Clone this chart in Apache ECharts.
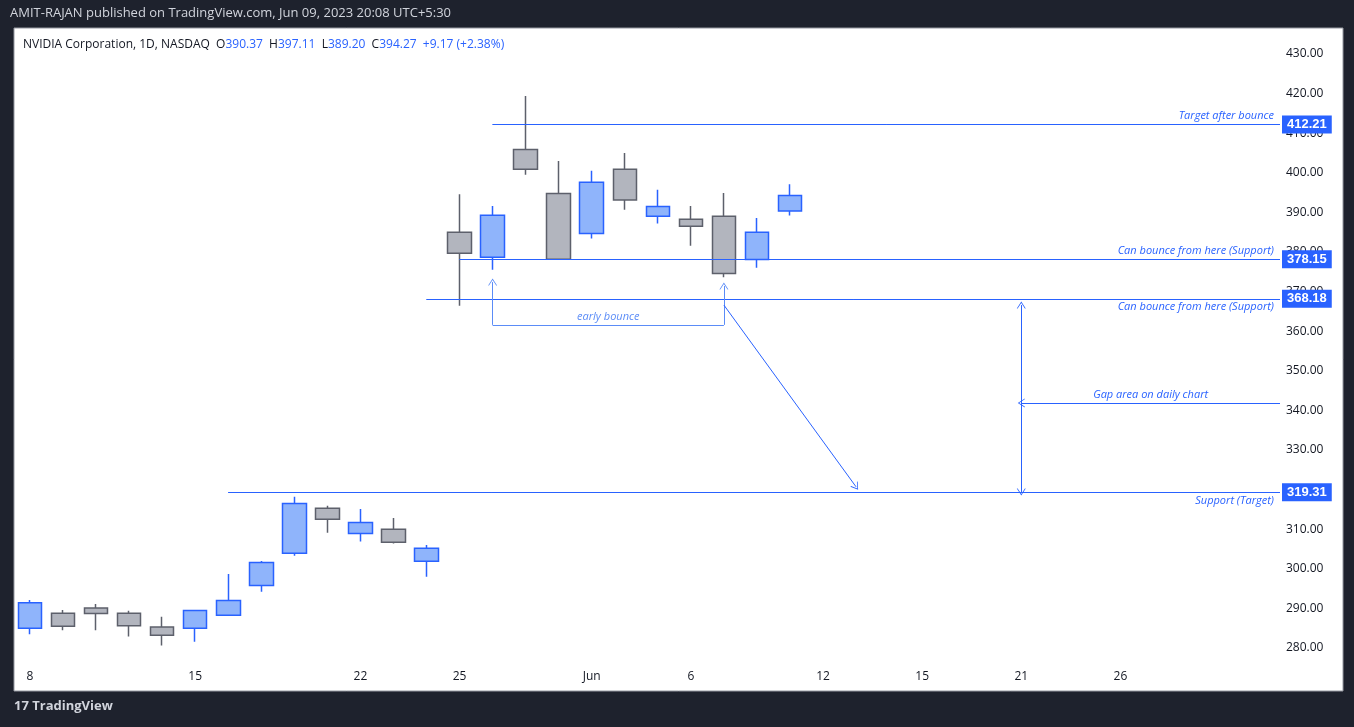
<!DOCTYPE html>
<html>
<head>
<meta charset="UTF-8">
<title>NVDA 1D</title>
<script src="https://cdn.jsdelivr.net/npm/echarts@6/dist/echarts.min.js"></script>
<style>
  * { margin: 0; padding: 0; }
  body { background: #1e222d; }
  #main { width: 1354px; height: 727px; }
</style>
</head>
<body>
<div id="main"></div>
<script>
// trading days, May 8 .. Jun 30 2023 (index = position on the axis)
var days = ['05-08','05-09','05-10','05-11','05-12','05-15','05-16','05-17','05-18','05-19',
  '05-22','05-23','05-24','05-25','05-26','05-30','05-31','06-01','06-02','06-05','06-06',
  '06-07','06-08','06-09','06-12','06-13','06-14','06-15','06-16','06-20','06-21','06-22',
  '06-23','06-26','06-27','06-28','06-29','06-30'];
var tickIdx = [0, 5, 10, 13, 17, 20, 24, 27, 30, 33];
var tickText = ['8', '15', '22', '25', 'Jun', '6', '12', '15', '21', '26'];

var opens  = [285.0,288.8,290.1,288.8,285.3,285.0,288.3,295.8,303.9,315.3,308.9,310.0,301.9,
              385.0,378.7,405.9,394.8,384.7,400.9,389.0,388.3,389.0,378.1,390.37];
var closes = [291.4,285.5,288.7,285.6,283.2,289.5,292.0,301.6,316.5,312.5,311.7,306.7,305.2,
              379.7,389.3,400.9,378.2,397.6,393.1,391.5,386.5,374.6,385.0,394.27];
var lows   = [283.5,284.5,284.5,282.9,280.6,281.6,288.3,294.2,303.3,309.1,306.9,306.4,298.0,
              366.4,375.5,399.5,378.2,383.4,390.7,387.2,381.6,373.6,376.0,389.20];
var highs  = [292.1,289.6,291.1,289.4,287.9,289.5,298.7,302.0,318.2,315.9,315.1,312.8,306.0,
              394.6,391.6,419.4,403.0,400.5,405.0,395.7,391.6,394.9,388.6,397.11];

// horizontal levels: value, start index, note, note side
var levels = [
  { v: 412.21, from: 14, note: 'Target after bounce', pos: 'insideEndTop' },
  { v: 378.15, from: 13, note: 'Can bounce from here (Support)', pos: 'insideEndTop' },
  { v: 368.18, from: 12, note: 'Can bounce from here (Support)', pos: 'insideEndBottom' },
  { v: 319.31, from: 6,  note: 'Support (Target)', pos: 'insideEndBottom' }
];
var lastPrice = 394.27, countdown = '05:21:17';
var xMax = 37.83;

var BLUE = '#2962ff';
var candles = days.slice(0, opens.length).map(function (d, i) {
  return [i, opens[i], closes[i], lows[i], highs[i]];
});

var noteStyle = { color: BLUE, fontStyle: 'italic', fontSize: 11, fontFamily: 'Open Sans' };
var lines = [];
levels.forEach(function (l) {
  lines.push([{ coord: [l.from, l.v], label: { show: true, position: 'end', formatter: l.v.toFixed(2),
      color: '#fff', backgroundColor: BLUE, padding: [3, 5, 2, 5], fontSize: 13, fontWeight: 'bold', distance: 2 } },
    { coord: [xMax, l.v] }]);
  lines.push([{ coord: [l.from, l.v], label: Object.assign({ show: true, position: l.pos, formatter: l.note,
      distance: [6, 3] }, noteStyle) },
    { coord: [xMax, l.v] }]);
});
lines.push([{ coord: [23, lastPrice], lineStyle: { opacity: 0 }, label: { show: true, position: 'end',
    formatter: lastPrice.toFixed(2) + '\n' + countdown, color: '#fff', backgroundColor: '#3179f5',
    padding: [4, 5, 3, 5], lineHeight: 15, fontSize: 13, fontWeight: 'bold', distance: 2 } },
  { coord: [xMax, lastPrice] }]);
// drawings
var arrow = 'path://M0,10 L5,0 L10,10 L9,10 L5,2 L1,10 Z';
var thin = { color: '#5b8cf7', width: 1 };
lines.push([{ coord: [14, 361.6], symbol: 'none', lineStyle: thin }, { coord: [14, 372.4], symbol: arrow, symbolSize: [9, 7] }]);
lines.push([{ coord: [21, 361.6], symbol: 'none', lineStyle: thin }, { coord: [21, 371.4], symbol: arrow, symbolSize: [9, 7] }]);
lines.push([{ coord: [14, 361.6], symbol: 'none', lineStyle: thin, label: { show: true, position: 'insideMiddleTop',
    formatter: 'early bounce', color: '#5b8cf7', fontStyle: 'italic', fontSize: 11, fontFamily: 'Open Sans', distance: 3 } },
  { coord: [21, 361.6], symbol: 'none' }]);
lines.push([{ coord: [21, 366.6], symbol: 'none' }, { coord: [25, 320.7], symbol: arrow, symbolSize: [9, 7] }]);
lines.push([{ coord: [30, 366.6], symbol: arrow, symbolSize: [9, 7] }, { coord: [30, 319.4], symbol: arrow, symbolSize: [9, 7] }]);
lines.push([{ coord: [30, 341.9], symbol: arrow, symbolSize: [9, 7], label: Object.assign({ show: true,
    position: 'insideMiddleTop', formatter: 'Gap area on daily chart', distance: 3 }, noteStyle) },
  { coord: [xMax, 341.9], symbol: 'none' }]);

var chart = echarts.init(document.getElementById('main'));
chart.setOption({
  backgroundColor: '#1e222d',
  animation: false,
  graphic: [
    { type: 'rect', shape: { x: 14, y: 28, width: 1329, height: 663 }, style: { fill: '#fff', stroke: '#9598a1' }, z: -10 },
    { type: 'text', left: 10, top: 7, style: { text: 'AMIT-RAJAN published on TradingView.com, Jun 09, 2023 20:08 UTC+5:30',
        fill: '#d1d4dc', font: '13px "Open Sans", sans-serif' } },
    { type: 'text', left: 14, top: 700, style: { text: '17 TradingView', fill: '#d1d4dc', font: 'bold 13px "Open Sans", sans-serif' } }
  ],
  title: {
    left: 18, top: 34,
    text: '{k|NVIDIA Corporation, 1D, NASDAQ  O}{v|' + opens[23].toFixed(2) + '}{k|  H}{v|' + highs[23].toFixed(2) +
      '}{k|  L}{v|' + lows[23].toFixed(2) + '}{k|  C}{v|' + closes[23].toFixed(2) + '}{v|  +9.17 (+2.38%)}',
    textStyle: { fontWeight: 'normal', rich: {
      k: { color: '#131722', fontSize: 12, fontWeight: 'normal', fontFamily: 'Open Sans' },
      v: { color: '#2962ff', fontSize: 12, fontWeight: 'normal', fontFamily: 'Open Sans' }
    } }
  },
  grid: { left: 13.5, right: 74, top: 14.4, bottom: 39.4 },
  xAxis: {
    type: 'value', min: -0.5, max: xMax, offset: -25,
    axisLine: { show: false }, axisTick: { show: false }, splitLine: { show: false },
    axisLabel: { customValues: tickIdx, color: '#131722', fontSize: 12, fontFamily: 'Open Sans',
      formatter: function (v) { var k = tickIdx.indexOf(Math.round(v)); return k < 0 ? '' : tickText[k]; } }
  },
  yAxis: {
    type: 'value', position: 'right', min: 270, max: 440, interval: 10,
    axisLine: { show: false }, axisTick: { show: false }, splitLine: { show: false },
    axisLabel: { color: '#131722', fontSize: 12, fontFamily: 'Open Sans', margin: 6,
      formatter: function (v) { return (v < 280 || v > 430) ? '' : v.toFixed(2); } }
  },
  series: [{
    type: 'candlestick',
    data: candles,
    encode: { x: 0, y: [1, 2, 3, 4] },
    barWidth: 24,
    itemStyle: { color: '#8fb4fb', color0: '#b2b5be', borderColor: '#2962ff', borderColor0: '#5d606b', borderWidth: 1.5 },
    markLine: {
      silent: true, symbol: ['none', 'none'], animation: false,
      lineStyle: { color: BLUE, width: 1, type: 'solid' },
      label: { show: false },
      data: lines
    }
  }]
});
</script>
</body>
</html>
